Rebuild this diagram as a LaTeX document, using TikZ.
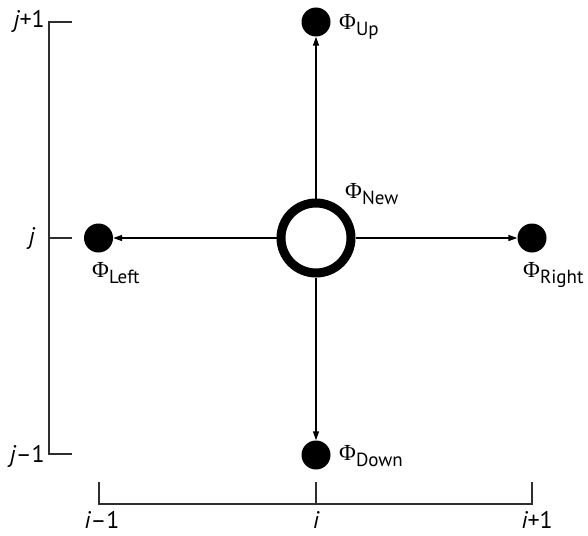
\documentclass[tikz,border=0pt]{standalone}
\usepackage{fontspec}
\setmainfont{PT Sans}
\newfontfamily\phifont{Liberation Serif}
\usetikzlibrary{arrows.meta}
\newcommand\PhiLab[1]{{\phifont\fontsize{23}{25}\selectfont Φ}\raisebox{-6pt}{\fontsize{19}{21}\selectfont #1}}
\begin{document}
\begin{tikzpicture}[x=1pt,y=-1pt,
  dot/.style={circle,fill=black,minimum size=29pt,inner sep=0pt},
  ring/.style={circle,draw=black,line width=9pt,minimum size=70pt,inner sep=0pt,fill=white},
  flow/.style={line width=1.4pt,-{Triangle[length=9pt,width=6pt]}},
  brk/.style={line width=2.6pt,draw=black!82},
  axlab/.style={font=\fontsize{24}{26}\selectfont,inner sep=0pt},
  philab/.style={inner sep=0pt,anchor=base west}]
\useasboundingbox (0,0) rectangle (588,535);
% nodes
\node[ring] (new) at (316,238) {};
\node[dot] (up) at (316,22) {};
\node[dot] (down) at (316,455) {};
\node[dot] (left) at (98.5,238) {};
\node[dot] (right) at (532,238) {};
% arrows
\draw[flow] (new) -- (up);
\draw[flow] (new) -- (down);
\draw[flow] (new) -- (left);
\draw[flow] (new) -- (right);
% phi labels
\node[philab] (lup) at (339,30) {\PhiLab{Up}};
\node[philab] (lnew) at (345,198) {\PhiLab{New}};
\node[philab] (lleft) at (92,277) {\PhiLab{Left}};
\node[philab] (lright) at (523,277) {\PhiLab{Right}};
\node[philab] (ldown) at (339,460) {\PhiLab{Down}};
% left bracket
\coordinate (jt1) at (72,22);
\coordinate (jt0) at (49,22);
\coordinate (jb0) at (49,454);
\coordinate (jb1) at (72,454);
\coordinate (jm0) at (49,238);
\coordinate (jm1) at (72,238);
\draw[brk] (jt1) -- (jt0) -- (jb0) -- (jb1);
\draw[brk] (jm0) -- (jm1);
% bottom bracket
\coordinate (il1) at (99,482);
\coordinate (il0) at (99,504);
\coordinate (ir0) at (532,504);
\coordinate (ir1) at (532,482);
\coordinate (im0) at (316,504);
\coordinate (im1) at (316,482);
\draw[brk] (il1) -- (il0) -- (ir0) -- (ir1);
\draw[brk] (im0) -- (im1);
% axis labels
\node[axlab,anchor=base east] (jp) at (45,28) {\itshape j\upshape +1};
\node[axlab,anchor=base east] (jj) at (35,244) {\itshape j};
\node[axlab,anchor=base east] (jm) at (45,462) {\itshape j\upshape –1};
\node[axlab,anchor=base] (im) at (102,528) {\itshape i\upshape –1};
\node[axlab,anchor=base] (ii) at (316,528) {\itshape i};
\node[axlab,anchor=base] (ip) at (537,528) {\itshape i\upshape +1};
\end{tikzpicture}
\end{document}
